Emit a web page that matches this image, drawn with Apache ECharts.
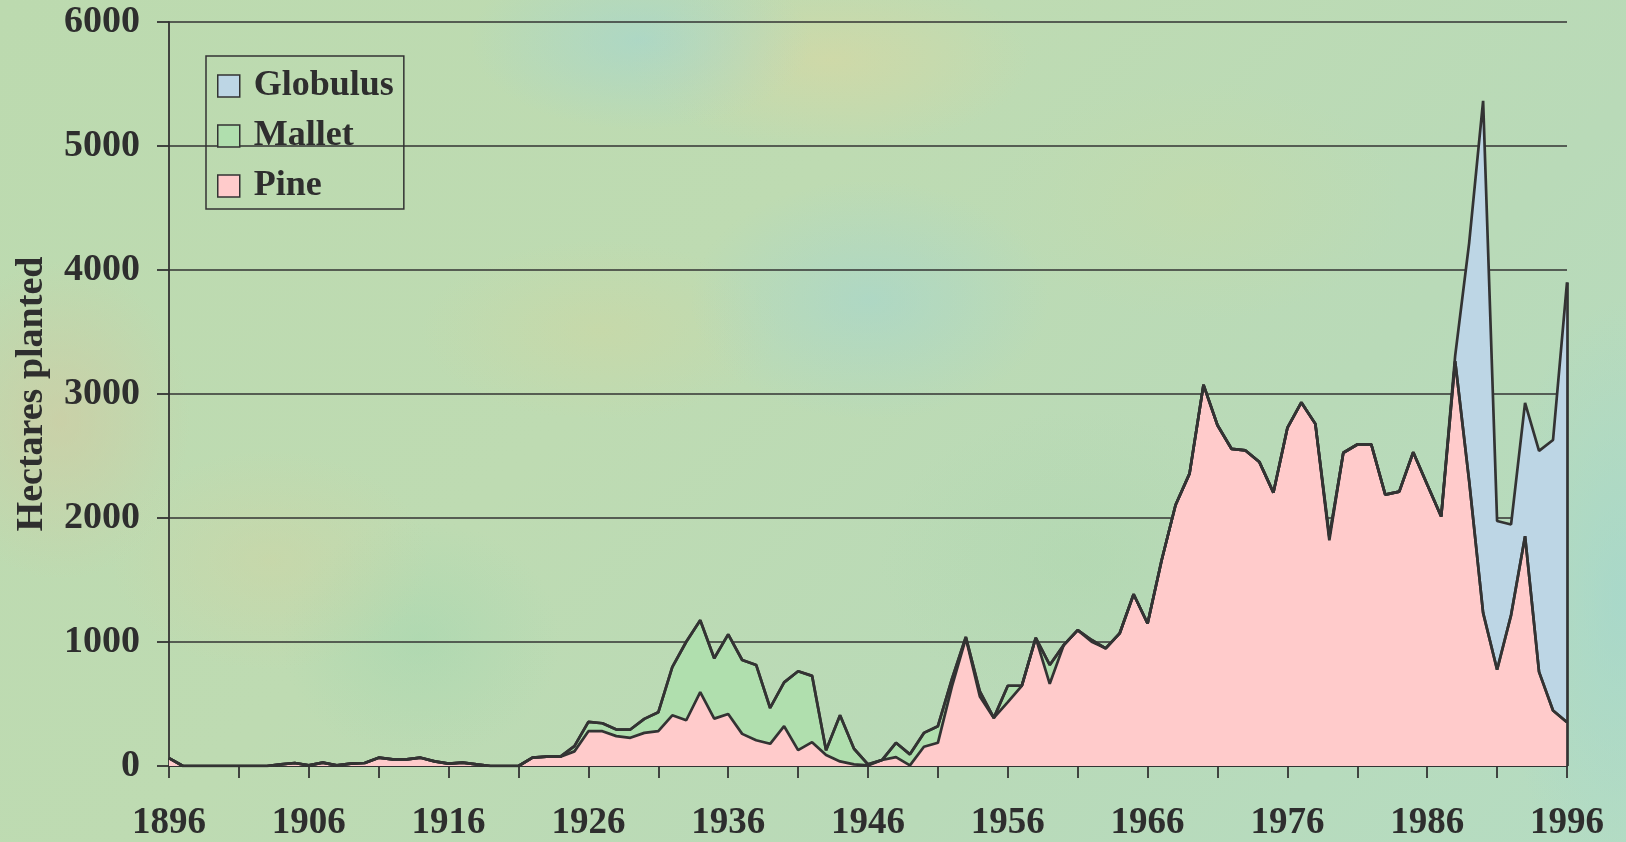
<!DOCTYPE html>
<html>
<head>
<meta charset="utf-8">
<script src="https://cdn.jsdelivr.net/npm/echarts@6/dist/echarts.min.js"></script>
<style>
html,body{margin:0;padding:0;width:1626px;height:842px;overflow:hidden;}
body{
  background:
    radial-gradient(ellipse 170px 90px at 640px 40px, rgba(160,212,212,0.55), rgba(160,212,212,0) 100%),
    radial-gradient(ellipse 200px 90px at 830px 60px, rgba(220,215,160,0.55), rgba(220,215,160,0) 100%),
    radial-gradient(ellipse 130px 160px at 60px 420px, rgba(212,200,160,0.55), rgba(212,200,160,0) 100%),
    radial-gradient(ellipse 180px 120px at 870px 300px, rgba(160,212,212,0.5), rgba(160,212,212,0) 100%),
    radial-gradient(ellipse 180px 90px at 600px 330px, rgba(208,214,160,0.45), rgba(208,214,160,0) 100%),
    radial-gradient(ellipse 160px 110px at 270px 560px, rgba(212,210,160,0.4), rgba(212,210,160,0) 100%),
    radial-gradient(ellipse 140px 120px at 420px 640px, rgba(160,214,175,0.45), rgba(160,214,175,0) 100%),
    radial-gradient(ellipse 120px 300px at 1620px 600px, rgba(160,214,208,0.6), rgba(160,214,208,0) 100%),
    radial-gradient(ellipse 200px 120px at 1200px 200px, rgba(200,218,165,0.4), rgba(200,218,165,0) 100%),
    radial-gradient(ellipse 200px 150px at 1080px 560px, rgba(172,214,172,0.4), rgba(172,214,172,0) 100%),
    linear-gradient(135deg, #bcdaaf 0%, #bedbb2 40%, #b9dab8 70%, #b5dcc2 100%);
}
#chart{width:1626px;height:842px;}
</style>
</head>
<body>
<div id="chart"></div>
<script>
// Years 1896..1996
const startYear = 1896;
const endYear = 1996;
const years = [];
for (let y = startYear; y <= endYear; y++) years.push(String(y));

// Pine (hectares planted), 1896..1996
const pine = [
  64, 0, 0, 0, 0, 0, 0, 0, 13, 24,        // 1896-1905
  5, 27, 5, 19, 24, 67, 53, 53, 67, 37,    // 1906-1915
  19, 27, 13, 0, 0, 0, 67, 75, 75, 118,    // 1916-1925
  281, 281, 241, 227, 267, 281, 409, 369, 596, 382, // 1926-1935
  420, 259, 208, 179, 321, 128, 192, 88, 37, 13,    // 1936-1945
  5, 48, 72, 5, 155, 187, 640, 1030, 561, 388,      // 1946-1955
  515, 647, 1034, 663, 975, 1096, 1002, 949, 1069, 1385, // 1956-1965
  1149, 1657, 2105, 2358, 3074, 2748, 2558, 2545, 2451, 2205, // 1966-1975
  2726, 2932, 2759, 1820, 2526, 2593, 2593, 2188, 2213, 2530, // 1976-1985
  2270, 2012, 3264, 2300, 1235, 776, 1217, 1853, 759, 448,    // 1986-1995
  353                                                          // 1996
];

// Mallet (hectares planted), 1896..1996
const mallet = [
  0, 0, 0, 0, 0, 0, 0, 0, 0, 0,            // 1896-1905
  0, 0, 0, 0, 0, 0, 0, 0, 0, 0,            // 1906-1915
  0, 0, 0, 0, 0, 0, 0, 0, 0, 42,           // 1916-1925
  75, 64, 53, 67, 113, 152, 388, 633, 580, 487,   // 1926-1935
  641, 596, 607, 289, 353, 636, 535, 40, 372, 126, // 1936-1945
  8, 0, 115, 89, 112, 134, 60, 10, 40, 0,          // 1946-1955
  132, 0, 0, 152, 0, 0, 14, 0, 0, 0,               // 1956-1965
  0, 0, 0, 0, 0, 0, 0, 0, 0, 0,                    // 1966-1975
  0, 0, 0, 30, 0, 0, 0, 0, 0, 0,                   // 1976-1985
  0, 0, 0, 0, 0, 0, 0, 0, 0, 0,                    // 1986-1995
  0                                                // 1996
];

// Globulus (hectares planted), 1896..1996
const globulus = [
  0,0,0,0,0,0,0,0,0,0, 0,0,0,0,0,0,0,0,0,0,
  0,0,0,0,0,0,0,0,0,0, 0,0,0,0,0,0,0,0,0,0,
  0,0,0,0,0,0,0,0,0,0, 0,0,0,0,0,0,0,0,0,0,
  0,0,0,0,0,0,0,0,0,0, 0,0,0,0,0,0,0,0,0,0,
  0,0,0,0,0,0,0,0,0,0,                      // 1976-1985
  0, 0, 43, 1917, 4129, 1200, 731, 1076, 1782, 2181, // 1986-1995
  3547                                                // 1996
];

const yTicks = [0, 1000, 2000, 3000, 4000, 5000, 6000];

const seriesNames = ['Pine', 'Mallet', 'Globulus'];
const seriesColors = ['#ffcbcb', '#b0dfae', '#bdd6e5'];
const lineColor = '#333333';
const textColor = '#2e2e2e';
const fontFamily = '"Liberation Serif", "Times New Roman", serif';

const lastIdx = years.length - 1;
const lastTotal = pine[lastIdx] + mallet[lastIdx] + globulus[lastIdx];

const chart = echarts.init(document.getElementById('chart'), null, {renderer: 'canvas'});

function mkSeries(name, data, color, extra) {
  return Object.assign({
    name: name,
    type: 'line',
    stack: 'total',
    data: data,
    symbol: 'none',
    showSymbol: false,
    smooth: false,
    lineStyle: {color: lineColor, width: 2.7},
    itemStyle: {color: color, borderColor: lineColor, borderWidth: 1.5},
    areaStyle: {color: color, opacity: 1},
    emphasis: {disabled: true},
    animation: false
  }, extra || {});
}

const legendOrder = ['Globulus', 'Mallet', 'Pine'];

chart.setOption({
  backgroundColor: 'transparent',
  animation: false,
  grid: {left: 169, right: 59, top: 22, bottom: 72, containLabel: false},
  legend: {
    show: true,
    orient: 'vertical',
    left: 206,
    top: 56,
    data: legendOrder.map(function (n) {
      return {name: n, icon: 'rect',
        itemStyle: {color: seriesColors[seriesNames.indexOf(n)], borderColor: lineColor, borderWidth: 1.5}};
    }),
    itemWidth: 22,
    itemHeight: 22,
    itemGap: 14,
    padding: [12, 10, 5, 11],
    borderColor: lineColor,
    borderWidth: 1.5,
    backgroundColor: 'transparent',
    lineStyle: {width: 0, opacity: 0},
    formatter: function (n) { return ' ' + n; },
    textStyle: {fontFamily: fontFamily, fontWeight: 'bold', fontSize: 36, color: textColor}
  },
  xAxis: {
    type: 'category',
    data: years,
    boundaryGap: false,
    axisLine: {show: true, lineStyle: {color: lineColor, width: 1.8}},
    axisTick: {
      show: true, length: 12, inside: false,
      interval: function (i) { return i % 5 === 0; },
      lineStyle: {color: lineColor, width: 1.8}
    },
    axisLabel: {
      show: true,
      interval: function (i) { return i % 10 === 0; },
      margin: 39,
      fontFamily: fontFamily, fontWeight: 'bold', fontSize: 37, color: textColor
    },
    splitLine: {show: false}
  },
  yAxis: {
    type: 'value',
    min: yTicks[0],
    max: yTicks[yTicks.length - 1],
    interval: 1000,
    name: 'Hectares planted',
    nameLocation: 'middle',
    nameGap: 118,
    nameRotate: 90,
    nameTextStyle: {fontFamily: fontFamily, fontWeight: 'bold', fontSize: 38, color: textColor},
    axisLine: {show: true, lineStyle: {color: lineColor, width: 1.8}},
    axisTick: {show: true, length: 12, inside: false, lineStyle: {color: lineColor, width: 1.8}},
    axisLabel: {
      margin: 29,
      formatter: function (v) { return String(v); },
      fontFamily: fontFamily, fontWeight: 'bold', fontSize: 38, color: textColor
    },
    splitLine: {show: true, lineStyle: {color: lineColor, width: 1.6}}
  },
  series: [
    mkSeries(seriesNames[0], pine, seriesColors[0]),
    mkSeries(seriesNames[1], mallet, seriesColors[1]),
    mkSeries(seriesNames[2], globulus, seriesColors[2], {
      markLine: {
        silent: true,
        symbol: ['none', 'none'],
        label: {show: false},
        lineStyle: {color: lineColor, width: 2.7, type: 'solid'},
        data: [[{coord: [years[lastIdx], 0]}, {coord: [years[lastIdx], lastTotal]}]]
      }
    })
  ]
});
</script>
</body>
</html>
